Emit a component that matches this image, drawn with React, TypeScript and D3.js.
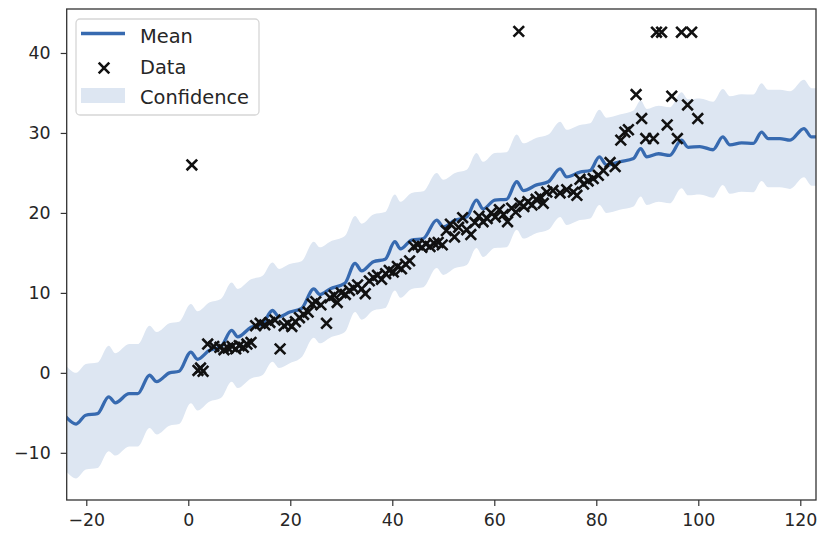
import React, { useRef, useEffect } from 'react';
import * as d3 from 'd3';

// mean of the fit
const meanX = [-24.0, -22.0, -20.1, -17.8, -15.6, -14.3, -11.6, -9.9, -7.6, -6.2, -3.7, -1.8, 0.5, 1.8, 4.1, 6.4, 8.5, 9.7, 12.3, 14.5, 16.5, 17.8, 19.9, 22.2, 24.6, 25.8, 27.8, 30.7, 32.7, 34.0, 36.3, 38.6, 40.5, 41.6, 43.8, 46.1, 48.7, 50.0, 52.3, 54.6, 56.5, 57.8, 60.1, 62.4, 64.4, 65.7, 68.3, 70.6, 72.9, 74.2, 76.8, 78.8, 80.6, 82.0, 84.6, 87.3, 88.7, 89.9, 92.2, 94.4, 96.7, 98.0, 100.3, 102.9, 104.8, 106.2, 108.5, 110.8, 112.4, 113.7, 116.0, 118.0, 120.7, 122.2, 123.3];
const meanY = [-5.5, -6.4, -5.3, -5.1, -3.0, -3.75, -2.6, -2.6, -0.3, -1.1, 0.0, 0.2, 2.6, 1.7, 2.8, 3.25, 5.3, 4.5, 5.7, 6.1, 7.8, 7.0, 7.6, 8.05, 10.5, 9.8, 10.5, 11.2, 13.7, 12.75, 13.9, 14.2, 16.4, 15.5, 16.6, 16.8, 19.1, 18.25, 19.1, 19.5, 21.6, 20.5, 21.6, 21.7, 23.9, 22.8, 23.5, 23.9, 25.5, 24.5, 25.1, 25.3, 27.0, 26.0, 26.4, 26.8, 28.05, 27.0, 27.4, 27.2, 29.1, 28.2, 28.3, 27.9, 29.5, 28.5, 28.75, 28.7, 30.1, 29.3, 29.3, 29.1, 30.55, 29.5, 29.5];
const upperY = [0.9, 0.0, 1.1, 1.3, 3.4, 2.45, 3.6, 3.6, 5.9, 5.1, 6.2, 6.4, 8.6, 7.7, 8.8, 9.25, 11.3, 10.5, 11.7, 12.1, 13.8, 13.0, 13.6, 13.95, 16.4, 15.7, 16.4, 17.1, 19.6, 18.65, 19.8, 20.1, 22.3, 21.4, 22.5, 22.7, 25.0, 24.15, 25.0, 25.4, 27.5, 26.4, 27.5, 27.6, 29.8, 28.7, 29.4, 29.8, 31.4, 30.4, 31.0, 31.2, 32.9, 31.9, 32.3, 32.8, 34.05, 33.0, 33.4, 33.2, 35.1, 34.2, 34.3, 33.9, 35.5, 34.6, 34.85, 34.8, 36.2, 35.4, 35.4, 35.2, 36.65, 35.6, 35.6];
const lowerY = [-12.3, -13.2, -12.1, -11.9, -9.8, -10.35, -9.2, -9.2, -6.9, -7.7, -6.6, -6.4, -3.8, -4.7, -3.6, -3.15, -1.1, -1.9, -0.7, -0.3, 1.4, 0.6, 1.2, 1.95, 4.4, 3.7, 4.4, 5.1, 7.6, 6.65, 7.8, 8.1, 10.3, 9.4, 10.5, 10.7, 13.1, 12.25, 13.1, 13.5, 15.6, 14.5, 15.6, 15.7, 17.9, 16.8, 17.5, 17.9, 19.5, 18.5, 19.1, 19.3, 21.0, 20.0, 20.4, 20.8, 22.05, 21.0, 21.4, 21.2, 23.1, 22.2, 22.3, 21.9, 23.5, 22.4, 22.65, 22.6, 24.0, 23.2, 23.2, 23.0, 24.45, 23.4, 23.4];

// observations
const dataX = [0.7, 1.9, 2.4, 2.9, 3.8, 5.0, 6.2, 7.0, 7.8, 8.6, 9.3, 10.0, 10.8, 11.5, 12.3, 13.2, 14.1, 15.0, 16.0, 17.0, 18.0, 18.8, 19.5, 20.3, 21.0, 21.8, 22.6, 23.5, 24.3, 25.0, 26.0, 27.1, 27.8, 28.6, 29.2, 30.0, 30.8, 31.6, 32.4, 33.2, 34.0, 34.7, 35.5, 36.3, 37.1, 37.9, 38.7, 39.4, 40.2, 41.0, 41.8, 42.6, 43.4, 44.2, 45.0, 45.8, 46.6, 47.4, 48.2, 49.0, 49.8, 50.6, 51.4, 52.2, 53.0, 53.8, 54.6, 55.4, 56.2, 57.0, 57.8, 58.6, 59.4, 60.2, 61.0, 61.8, 62.6, 63.4, 64.2, 64.8, 65.0, 65.8, 66.6, 67.4, 68.2, 69.0, 69.6, 70.3, 71.5, 72.9, 74.2, 75.5, 76.2, 76.8, 77.5, 78.4, 79.4, 80.4, 81.4, 82.7, 83.7, 84.8, 85.6, 86.3, 87.8, 88.9, 89.7, 91.2, 91.8, 92.8, 93.9, 94.8, 95.9, 96.7, 97.9, 98.7, 99.9];
const dataY = [26.0, 0.3, 0.6, 0.2, 3.6, 3.3, 3.2, 2.9, 3.1, 3.3, 3.0, 3.4, 3.2, 3.6, 3.8, 5.9, 6.2, 6.0, 6.3, 6.6, 3.0, 5.9, 6.2, 5.8, 6.4, 6.9, 7.3, 7.6, 8.6, 8.9, 8.5, 6.2, 9.4, 9.7, 8.8, 10.0, 9.8, 10.3, 10.6, 11.0, 10.5, 9.9, 11.5, 11.9, 12.2, 11.7, 12.4, 12.8, 12.6, 13.3, 13.0, 13.6, 14.0, 15.8, 16.0, 15.7, 16.1, 15.8, 16.2, 16.3, 16.0, 17.8, 18.6, 17.0, 18.2, 19.4, 17.9, 17.3, 18.8, 19.6, 18.9, 19.3, 20.0, 19.5, 20.4, 19.8, 18.9, 20.6, 20.1, 42.7, 21.2, 20.8, 21.4, 21.0, 21.7, 22.0, 21.2, 22.6, 22.8, 22.5, 22.9, 22.6, 22.2, 24.2, 23.6, 24.0, 24.3, 24.7, 25.3, 26.3, 25.8, 29.1, 30.1, 30.4, 34.8, 31.8, 29.3, 29.3, 42.6, 42.6, 31.0, 34.6, 29.3, 42.6, 33.5, 42.6, 31.8];

const xTicks = [-20, 0, 20, 40, 60, 80, 100, 120];
const yTicks = [-10, 0, 10, 20, 30, 40];
const legendLabels = ['Mean', 'Data', 'Confidence'];

const W = 817;
const H = 535;
const LINE = '#376ab0';
const FILL = '#dde6f2';
const AXIS = '#333333';
const FONT = '"DejaVu Sans", sans-serif';

const App: React.FC = () => {
  const svgRef = useRef<SVGSVGElement | null>(null);

  useEffect(() => {
    const svg = d3.select(svgRef.current);
    svg.selectAll('*').remove();

    const left = 66.7, right = 816, top = 9, bottom = 500;
    const x = d3.scaleLinear().domain([-23.84, 123.08]).range([left, right]);
    const y = d3.scaleLinear().domain([-15.9, 45.5]).range([bottom, top]);

    svg.append('defs').append('clipPath').attr('id', 'plot-clip')
      .append('rect')
      .attr('x', left).attr('y', top)
      .attr('width', right - left).attr('height', bottom - top);

    const plot = svg.append('g').attr('clip-path', 'url(#plot-clip)');

    // confidence band
    const band = d3.area<number>()
      .x(i => x(meanX[i]))
      .y0(i => y(lowerY[i]))
      .y1(i => y(upperY[i]))
      .curve(d3.curveMonotoneX);
    plot.append('path')
      .datum(d3.range(meanX.length))
      .attr('d', band)
      .attr('fill', FILL);

    // mean line
    const line = d3.line<number>()
      .x(i => x(meanX[i]))
      .y(i => y(meanY[i]))
      .curve(d3.curveMonotoneX);
    plot.append('path')
      .datum(d3.range(meanX.length))
      .attr('d', line)
      .attr('fill', 'none')
      .attr('stroke', LINE)
      .attr('stroke-width', 3.3)
      .attr('stroke-linejoin', 'round');

    // data markers
    const s = 5.3;
    const cross = `M${-s},${-s}L${s},${s}M${-s},${s}L${s},${-s}`;
    plot.append('g')
      .selectAll('path')
      .data(d3.range(dataX.length))
      .enter()
      .append('path')
      .attr('transform', i => `translate(${x(dataX[i])},${y(dataY[i])})`)
      .attr('d', cross)
      .attr('stroke', '#111')
      .attr('stroke-width', 2.6)
      .attr('fill', 'none');

    // frame
    svg.append('rect')
      .attr('x', left).attr('y', top)
      .attr('width', right - left).attr('height', bottom - top)
      .attr('fill', 'none')
      .attr('stroke', AXIS)
      .attr('stroke-width', 1.3);

    // x axis
    const xAxis = svg.append('g')
      .attr('transform', `translate(0,${bottom})`)
      .call(d3.axisBottom(x).tickValues(xTicks).tickSize(6).tickPadding(8)
        .tickFormat(d => d3.format('d')(d as number).replace('-', '\u2212')));
    xAxis.select('.domain').remove();
    xAxis.selectAll('line').attr('stroke', AXIS).attr('stroke-width', 1.2);
    xAxis.selectAll('text')
      .attr('fill', '#262626')
      .style('font-family', FONT)
      .style('font-size', '17.4px');

    // y axis
    const yAxis = svg.append('g')
      .attr('transform', `translate(${left},0)`)
      .call(d3.axisLeft(y).tickValues(yTicks).tickSize(6).tickPadding(10)
        .tickFormat(d => d3.format('d')(d as number).replace('-', '\u2212')));
    yAxis.select('.domain').remove();
    yAxis.selectAll('line').attr('stroke', AXIS).attr('stroke-width', 1.2);
    yAxis.selectAll('text')
      .attr('fill', '#262626')
      .style('font-family', FONT)
      .style('font-size', '17.4px');

    // legend
    const lg = svg.append('g');
    lg.append('rect')
      .attr('x', 76).attr('y', 19)
      .attr('width', 183).attr('height', 96)
      .attr('rx', 4)
      .attr('fill', '#fff').attr('fill-opacity', 0.8)
      .attr('stroke', '#d6d6d6').attr('stroke-width', 1.3);
    const rowY = [36, 67, 96.5];
    lg.append('line')
      .attr('x1', 81).attr('x2', 125)
      .attr('y1', rowY[0] - 2.5).attr('y2', rowY[0] - 2.5)
      .attr('stroke', LINE).attr('stroke-width', 3.3);
    lg.append('path')
      .attr('transform', `translate(104,${rowY[1] + 1})`)
      .attr('d', cross)
      .attr('stroke', '#111').attr('stroke-width', 2.6).attr('fill', 'none');
    lg.append('rect')
      .attr('x', 81).attr('y', rowY[2] - 8.5)
      .attr('width', 44).attr('height', 15)
      .attr('fill', FILL);
    lg.selectAll('text.lbl')
      .data(legendLabels)
      .enter()
      .append('text')
      .attr('class', 'lbl')
      .attr('x', 140)
      .attr('y', (_, i) => rowY[i] + 7.3)
      .attr('fill', '#262626')
      .style('font-family', FONT)
      .style('font-size', '19.4px')
      .text(d => d);
  }, []);

  return (
    <div style={{ position: 'absolute', left: 0, top: 0 }}>
      <svg ref={svgRef} width={W} height={H} style={{ display: 'block', background: '#fff' }}></svg>
    </div>
  );
};

export default App;
